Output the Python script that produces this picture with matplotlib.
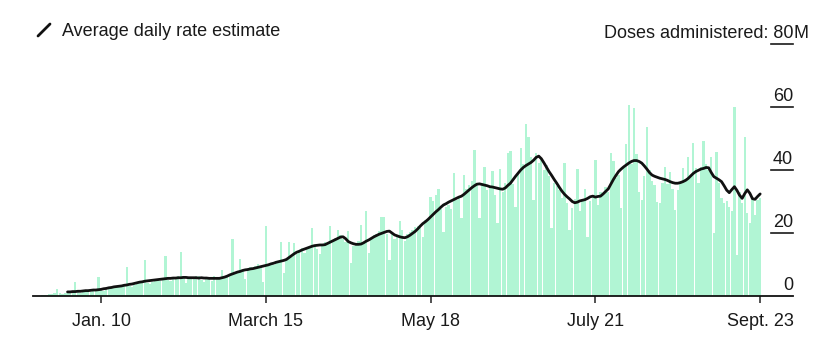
import numpy as np
import pandas as pd
import matplotlib
matplotlib.use('Agg')
import matplotlib.pyplot as plt
import matplotlib.transforms as mtransforms
from matplotlib.lines import Line2D

plt.rcParams['font.family'] = ['Liberation Sans', 'DejaVu Sans']

# Daily doses administered (millions), one value per day
bar_start = '2020-12-18'
daily_doses = [
    0.2, 0.3, 0.4, 0.6, 0.5, 0.9, 2.2, 0.8, 0.7, 0.9,
    1.0, 1.1, 1.3, 4.3, 1.2, 1.0, 1.3, 1.5, 1.6, 1.4,
    1.6, 1.8, 5.9, 1.9, 1.7, 2.2, 2.5, 2.4, 2.6, 2.8,
    2.7, 3.0, 3.3, 9.1, 3.2, 3.0, 3.6, 3.8, 4.0, 4.1,
    11.3, 4.2, 3.9, 4.6, 5.0, 5.2, 4.8, 5.5, 12.7, 5.2,
    4.8, 5.6, 5.9, 6.2, 14.1, 6.3, 4.0, 5.5, 6.0, 5.8,
    6.2, 6.4, 5.0, 4.3, 5.8, 5.3, 4.9, 6.3, 5.5, 5.7,
    8.3, 5.6, 6.2, 6.8, 18.0, 7.3, 7.8, 11.7, 8.0, 5.4,
    8.9, 9.3, 8.7, 9.4, 10.1, 9.2, 4.5, 22.3, 9.8, 10.4,
    10.0, 11.2, 10.6, 17.2, 7.4, 11.5, 17.2, 12.5, 16.7, 13.4,
    14.0, 15.3, 13.8, 14.9, 15.6, 21.5, 16.3, 15.0, 13.2, 16.6,
    17.2, 16.5, 22.3, 17.9, 18.4, 21.0, 19.5, 18.2, 17.0, 20.7,
    10.4, 15.8, 16.2, 17.5, 22.5, 17.2, 27.1, 13.5, 18.4, 19.3,
    19.8, 20.5, 25.2, 25.0, 19.6, 11.4, 20.4, 18.0, 19.2, 23.8,
    21.0, 17.5, 19.8, 20.2, 21.1, 21.8, 22.3, 21.5, 18.8, 24.0,
    24.0, 31.5, 30.2, 32.0, 34.0, 27.5, 20.4, 28.2, 29.0, 27.6,
    39.2, 30.5, 31.0, 24.9, 38.4, 34.0, 35.1, 36.5, 46.3, 35.2,
    24.9, 36.0, 40.8, 33.5, 34.2, 39.7, 32.0, 23.1, 40.3, 33.0,
    36.0, 45.3, 46.0, 35.4, 28.4, 39.0, 46.9, 42.0, 54.5, 50.6,
    44.0, 30.5, 45.5, 42.2, 43.7, 40.0, 41.5, 38.2, 21.5, 36.0,
    35.0, 33.5, 31.0, 42.1, 29.5, 21.0, 28.0, 30.8, 40.2, 27.0,
    30.5, 34.0, 18.8, 30.2, 32.0, 43.2, 29.0, 33.0, 32.4, 34.5,
    33.0, 45.3, 43.0, 37.5, 38.5, 27.8, 40.5, 48.4, 60.6, 42.0,
    59.6, 45.0, 33.0, 30.5, 38.0, 53.5, 40.0, 36.5, 35.2, 30.0,
    29.4, 36.0, 41.1, 35.5, 39.5, 34.0, 27.3, 33.5, 36.0, 40.5,
    37.0, 44.2, 38.0, 48.7, 40.5, 36.0, 41.0, 49.2, 42.0, 40.0,
    44.2, 19.9, 45.8, 36.0, 31.0, 29.5, 30.2, 28.4, 27.0, 60.1,
    13.0, 33.0, 29.5, 50.6, 26.2, 23.1, 31.0, 25.7, 30.5, 31.0,
]

# Average daily rate estimate (millions)
avg_start = '2020-12-28'
avg_rate = [
    1.3, 1.3, 1.4, 1.4, 1.5, 1.5, 1.6, 1.7, 1.7, 1.8,
    1.9, 1.9, 2.0, 2.1, 2.3, 2.4, 2.6, 2.7, 2.9, 3.0,
    3.1, 3.2, 3.4, 3.5, 3.7, 3.8, 4.0, 4.2, 4.4, 4.5,
    4.7, 4.8, 4.9, 5.0, 5.1, 5.2, 5.3, 5.4, 5.5, 5.6,
    5.6, 5.7, 5.7, 5.8, 5.8, 5.9, 5.9, 5.8, 5.8, 5.8,
    5.8, 5.7, 5.8, 5.7, 5.7, 5.6, 5.6, 5.6, 5.6, 5.6,
    5.8, 6.0, 6.3, 6.7, 7.0, 7.3, 7.6, 7.8, 8.1, 8.3,
    8.4, 8.6, 8.7, 8.9, 9.1, 9.3, 9.5, 9.7, 9.9, 10.2,
    10.4, 10.7, 10.9, 11.1, 11.3, 11.6, 12.2, 12.8, 13.4, 13.9,
    14.2, 14.6, 14.9, 15.2, 15.5, 15.8, 16.0, 16.1, 16.2, 16.2,
    16.3, 16.7, 17.1, 17.5, 17.9, 18.3, 18.7, 18.8, 18.2, 17.3,
    16.9, 16.6, 16.4, 16.4, 16.5, 16.9, 17.4, 17.8, 18.3, 18.8,
    19.2, 19.6, 19.9, 20.2, 20.5, 20.6, 20.0, 19.4, 19.1, 18.8,
    18.6, 18.5, 18.8, 19.3, 19.9, 20.5, 21.3, 22.2, 23.0, 23.6,
    24.3, 25.1, 25.9, 26.7, 27.4, 28.2, 28.9, 29.3, 29.8, 30.2,
    30.6, 31.0, 31.4, 31.7, 32.3, 33.0, 33.7, 34.4, 35.0, 35.5,
    35.6, 35.4, 35.2, 35.0, 34.7, 34.6, 34.4, 34.2, 34.0, 33.9,
    34.3, 35.1, 35.8, 36.9, 38.0, 39.0, 40.0, 40.8, 41.4, 41.9,
    42.4, 43.1, 44.0, 44.4, 43.6, 42.3, 40.9, 39.5, 38.3, 37.0,
    35.8, 34.5, 33.3, 32.3, 31.5, 30.8, 30.0, 29.6, 29.8, 30.2,
    30.4, 30.6, 31.0, 31.5, 31.7, 31.4, 31.6, 31.7, 32.4, 33.2,
    34.0, 35.5, 37.0, 38.3, 39.5, 40.3, 41.0, 41.6, 42.2, 42.7,
    43.0, 43.0, 42.7, 42.2, 41.3, 40.3, 39.2, 38.4, 38.0, 37.7,
    37.4, 37.2, 37.0, 36.7, 36.3, 36.0, 35.8, 35.8, 36.0, 36.3,
    36.7, 37.3, 38.1, 38.9, 39.5, 39.9, 40.3, 40.5, 40.8, 40.7,
    39.2, 37.9, 37.4, 36.9, 36.3, 35.0, 33.6, 32.8, 33.8, 34.7,
    33.5, 32.0, 31.0, 32.5, 33.7, 32.6, 30.9, 30.7, 31.6, 32.4,
]

tick_dates = ['2021-01-10', '2021-03-15', '2021-05-18', '2021-07-21', '2021-09-23']
tick_labels = ['Jan. 10', 'March 15', 'May 18', 'July 21', 'Sept. 23']
y_ticks = [0, 20, 40, 60, 80]

bar_dates = pd.date_range(bar_start, periods=len(daily_doses), freq='D')
avg_dates = pd.date_range(avg_start, periods=len(avg_rate), freq='D')

W, H = 825, 346
fig = plt.figure(figsize=(W / 100, H / 100), dpi=100)
ax = fig.add_axes([33 / W, 50 / H, 760 / W, 252 / H])

ax.bar(bar_dates, daily_doses, width=0.92, color='#b1f5d4', linewidth=0, zorder=1)
ax.plot(avg_dates, avg_rate, color='#111111', lw=2.0, solid_joinstyle='round',
        solid_capstyle='round', zorder=3)

ax.set_xlim(pd.Timestamp('2020-12-14 14:00'), pd.Timestamp('2021-10-05 18:00'))
ax.set_ylim(0, 80)

for side in ['top', 'right', 'left']:
    ax.spines[side].set_visible(False)
ax.spines['bottom'].set_color('#111111')
ax.spines['bottom'].set_linewidth(1.3)

ax.set_xticks(pd.to_datetime(tick_dates))
ax.set_xticklabels(tick_labels, fontsize=13, color='#1a1a1a')
ax.tick_params(axis='x', length=5, width=1.2, color='#333333', pad=7)
ax.set_yticks([])

# right-hand value labels sitting on short underlines
trans = mtransforms.blended_transform_factory(ax.transAxes, ax.transData)
for v in y_ticks:
    if v > 0:
        ax.plot([0.971, 1.0], [v, v], transform=trans, color='#1a1a1a', lw=1.2,
                clip_on=False, zorder=4)
    label = 'Doses administered: 80' if v == 80 else str(v)
    ax.text(1.0, v + 0.6, label, transform=trans, ha='right', va='bottom',
            fontsize=13, color='#1a1a1a')
ax.text(1.0, 80.6, 'M', transform=trans, ha='left', va='bottom',
        fontsize=13, color='#1a1a1a')

# legend key
fig.add_artist(Line2D([38 / W, 50 / W], [1 - 36 / H, 1 - 24 / H],
                      color='#111111', lw=2.0, solid_capstyle='round'))
fig.text(62 / W, 1 - 31 / H, 'Average daily rate estimate', ha='left', va='center',
         fontsize=13, color='#1a1a1a')

fig.savefig('out.png', dpi=100)
